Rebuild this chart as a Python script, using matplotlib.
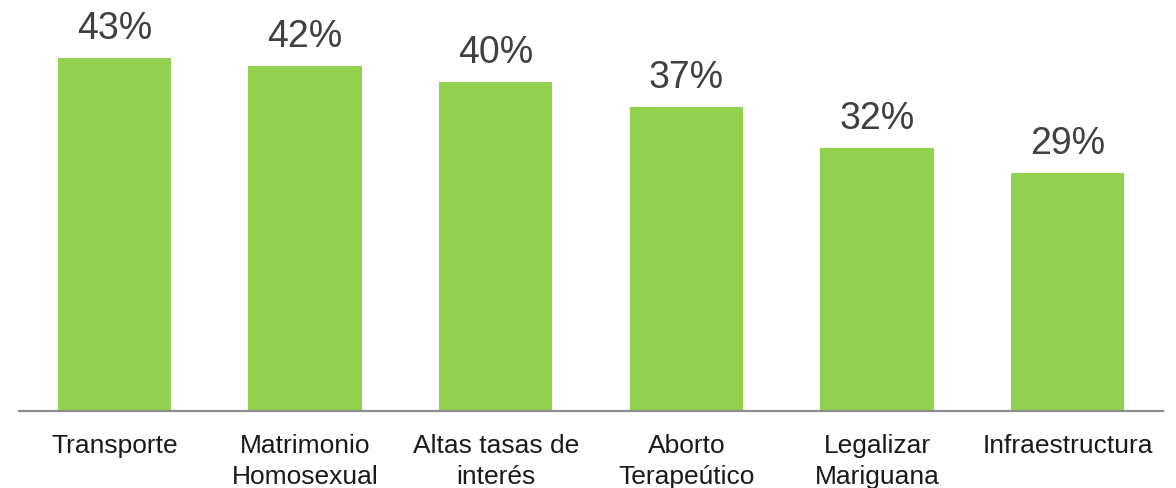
"""
Bar chart: share of mentions per topic
"""

import matplotlib.pyplot as plt
import numpy as np

plt.rcParams['font.family'] = ['Liberation Sans', 'DejaVu Sans']

# Data
categories = ['Transporte', 'Matrimonio\nHomosexual', 'Altas tasas de\ninterés',
              'Aborto\nTerapeútico', 'Legalizar\nMariguana', 'Infraestructura']
values = [43, 42, 40, 37, 32, 29]
value_labels = ['43%', '42%', '40%', '37%', '32%', '29%']

fig = plt.figure(figsize=(11.76, 4.88), dpi=100)
ax = fig.add_axes([19 / 1176, 1 - 411 / 488, (1163 - 19) / 1176, 411 / 488])

x = np.arange(len(categories))
bars = ax.bar(x, values, width=0.593, color='#92D050', zorder=2)

# Value labels above bars
for xi, v, lab in zip(x, values, value_labels):
    ax.annotate(lab, (xi, v), xytext=(0, 13.5), textcoords='offset points',
                ha='center', va='baseline', fontsize=27, color='#404040')

ax.set_xlim(-0.5, 5.5)
ax.set_ylim(0, 50)
ax.set_xticks(x)
ax.set_xticklabels(categories, fontsize=19, color='#1a1a1a', linespacing=1.35)
ax.tick_params(axis='x', length=0, pad=16.5)
ax.set_yticks([])

for side in ['top', 'right', 'left']:
    ax.spines[side].set_visible(False)
ax.spines['bottom'].set_color('#8c8c8c')
ax.spines['bottom'].set_linewidth(1.6)
ax.spines['bottom'].set_zorder(3)

fig.savefig('out.png', dpi=100)
